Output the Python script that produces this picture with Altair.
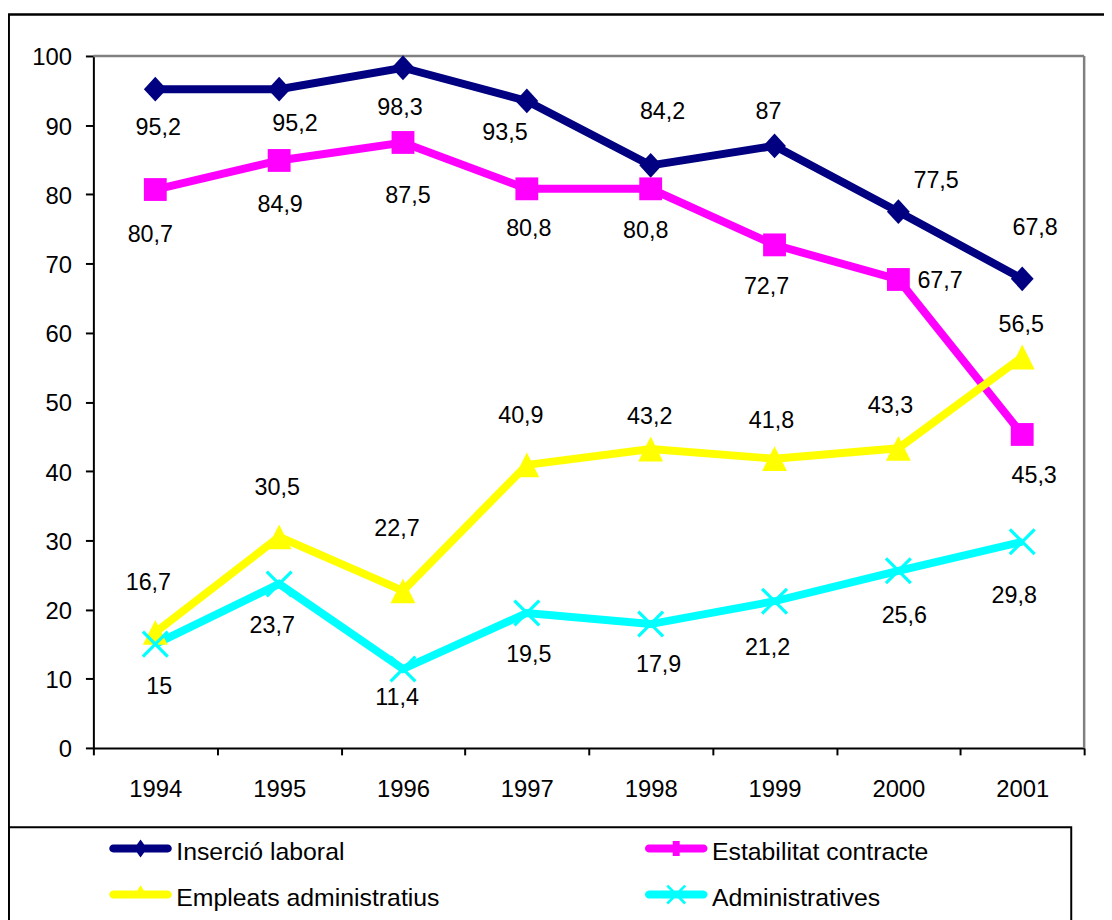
import math
import altair as alt
import pandas as pd

# ---------------- data ----------------
years = [1994, 1995, 1996, 1997, 1998, 1999, 2000, 2001]
series_names = ["Inserció laboral", "Estabilitat contracte",
                "Empleats administratius", "Administratives"]
insercio = [95.2, 95.2, 98.3, 93.5, 84.2, 87, 77.5, 67.8]
estabilitat = [80.7, 84.9, 87.5, 80.8, 80.8, 72.7, 67.7, 45.3]
empleats = [16.7, 30.5, 22.7, 40.9, 43.2, 41.8, 43.3, 56.5]
administratives = [15, 23.7, 11.4, 19.5, 17.9, 21.2, 25.6, 29.8]
y_ticks = list(range(0, 101, 10))

# label placement (pixel offsets of each data label from its marker)
label_dx = {
    "Inserció laboral": [3, 16, -3, -22, 12, -6, 38, 13],
    "Estabilitat contracte": [-5, 1, 5, 2, -5, -8, 42, 12],
    "Empleats administratius": [-7, -2, -6, -6, -1, -3, -8, -1],
    "Administratives": [4, -7, -6, 2, 8, -7, 6, -8],
}
label_dy = {
    "Inserció laboral": [39, 35, 41, 32, -54, -34, -31, -51],
    "Estabilitat contracte": [46, 45, 54, 41, 43, 42, 2, 42],
    "Empleats administratius": [-50, -49, -62, -49, -32, -38, -43, -32],
    "Administratives": [43, 42, 29, 42, 41, 47, 46, 55],
}

# ---------------- styles ----------------
FONT = "Liberation Sans"
colors = ["#000080", "#FF00FF", "#FFFF00", "#00FFFF"]
W, H = 998, 697

values_by_series = dict(zip(series_names, [insercio, estabilitat, empleats, administratives]))
rows = []
for s in series_names:
    for i, (yr, v) in enumerate(zip(years, values_by_series[s])):
        rows.append({
            "series": s, "year": yr, "value": v,
            "label": f"{v:g}".replace(".", ","),
            "ldx": label_dx[s][i], "ldy": label_dy[s][i],
        })
df = pd.DataFrame(rows)


def poly_path(polys, r):
    out = ""
    for poly in polys:
        out += "M" + "L".join(f"{x / r:.3f},{y / r:.3f}" for x, y in poly) + "Z"
    return out


def x_polys(half, t):
    n = t / math.sqrt(2)
    b1 = [(-half + n, -half - n), (half + n, half - n), (half - n, half + n), (-half - n, -half + n)]
    b2 = [(-half + n, half + n), (-half - n, half - n), (half - n, -half - n), (half + n, -half + n)]
    return [b1, b2]


# plot markers (unit square, size 625 -> r = 12.5 px)
R_PLOT = 12.5
plot_paths = [
    poly_path([[(0, -12.5), (11.5, 0), (0, 12.5), (-11.5, 0)]], R_PLOT),
    poly_path([[(-11.5, -11.5), (11.5, -11.5), (11.5, 11.5), (-11.5, 11.5)]], R_PLOT),
    poly_path([[(0, -12.5), (12.5, 12.5), (-12.5, 12.5)]], R_PLOT),
    poly_path(x_polys(12.5, 1.6), R_PLOT),
]

# legend symbols: thick line + small marker (size 400 -> r = 10 px)
R_LEG = 10.0
SY = -4.0


def legend_line():
    pts = [(-27.5, -4), (27.5, -4)]
    for k in range(1, 8):
        a = -math.pi / 2 + math.pi * k / 8
        pts.append((27.5 + 4 * math.cos(a), 4 * math.sin(a)))
    pts += [(27.5, 4), (-27.5, 4)]
    for k in range(1, 8):
        a = math.pi / 2 + math.pi * k / 8
        pts.append((-27.5 + 4 * math.cos(a), 4 * math.sin(a)))
    return pts


def shift(polys, dy):
    return [[(x, y + dy) for x, y in p] for p in polys]


line_poly = [legend_line()]
legend_markers = [
    [[(0, -9), (6.5, 0), (0, 9), (-6.5, 0)]],
    [[(-3.5, -7.5), (3.5, -7.5), (3.5, 7.5), (-3.5, 7.5)]],
    [[(0, -9.3), (8.3, 4), (-8.3, 4)]],
    x_polys(9, 1.3),
]
legend_paths = [poly_path(shift(line_poly + m, SY), R_LEG) for m in legend_markers]

# legend fills its grid column by column: order entries so rows read as in the original
leg_order = [0, 2, 1, 3]
leg_domain = [series_names[i] for i in leg_order]
leg_colors = [colors[i] for i in leg_order]
leg_shapes = [legend_paths[i] for i in leg_order]

x_enc = alt.X("year:O", scale=alt.Scale(type="band", paddingInner=0, paddingOuter=0),
              axis=alt.Axis(title=None, labelAngle=0, tickBand="extent", tickSize=7, tickWidth=2,
                            tickColor="black", domainColor="black", domainWidth=2, grid=False,
                            labelFont=FONT, labelFontSize=24, labelColor="black", labelPadding=23))
y_enc = alt.Y("value:Q", scale=alt.Scale(domain=[0, 100], nice=False, zero=True),
              axis=alt.Axis(title=None, values=y_ticks, tickSize=8, tickWidth=2, tickColor="black",
                            domainColor="black", domainWidth=2, grid=False, labelFont=FONT,
                            labelFontSize=24, labelColor="black", labelPadding=14, labelOffset=2))

base = alt.Chart(df)

lines = base.mark_line(strokeWidth=8).encode(
    x=x_enc, y=y_enc,
    color=alt.Color("series:N", scale=alt.Scale(domain=series_names, range=colors), legend=None),
)

points = base.mark_point(filled=True, size=625, opacity=1).encode(
    x=x_enc, y=y_enc,
    color=alt.Color("series:N", scale=alt.Scale(domain=series_names, range=colors), legend=None),
    shape=alt.Shape("series:N", scale=alt.Scale(domain=series_names, range=plot_paths), legend=None),
)

labels = base.mark_text(font=FONT, fontSize=23.5, color="black", align="center", baseline="middle",
                        dx=alt.ExprRef("datum.ldx"), dy=alt.ExprRef("datum.ldy")).encode(
    x=x_enc, y=y_enc, text="label:N")

leg = alt.Legend(title=None, orient="none", legendX=35, legendY=789.5, columns=2,
                 columnPadding=206.6, rowPadding=18.7, padding=0,
                 labelFont=FONT, labelFontSize=25, labelColor="black", labelOffset=23.5,
                 labelLimit=600, symbolSize=400, symbolStrokeWidth=0, symbolOpacity=1)

legend_layer = base.transform_filter("false").mark_point(filled=True, opacity=1).encode(
    x=x_enc, y=y_enc,
    color=alt.Color("series:N", scale=alt.Scale(domain=leg_domain, range=leg_colors), legend=leg),
    shape=alt.Shape("series:N", scale=alt.Scale(domain=leg_domain, range=leg_shapes), legend=leg),
)

one = pd.DataFrame({"k": [0]})
top_rule = alt.Chart(one).mark_rule(color="#808080", strokeWidth=2.5).encode(
    x=alt.value(0), x2=alt.value(W), y=alt.value(0))
right_rule = alt.Chart(one).mark_rule(color="#808080", strokeWidth=2.5).encode(
    x=alt.value(W), y=alt.value(0), y2=alt.value(H))
outer_box = alt.Chart(one).mark_rect(fill="transparent", stroke="black", strokeWidth=2.5).encode(
    x=alt.value(-85.3), x2=alt.value(1100), y=alt.value(-41.7), y2=alt.value(950))
legend_box = alt.Chart(one).mark_rect(fill="transparent", stroke="black", strokeWidth=2).encode(
    x=alt.value(-85.3), x2=alt.value(985), y=alt.value(777), y2=alt.value(950))

chart = alt.layer(
    outer_box, legend_box, top_rule, right_rule, lines, points, labels, legend_layer
).resolve_scale(color="independent", shape="independent").properties(
    width=W, height=H,
    padding={"left": 86, "top": 45, "right": 20, "bottom": 170},
    autosize=alt.AutoSizeParams(type="none"),
    background="white",
).configure_view(stroke="transparent", strokeWidth=0)

chart.save("out.html", embed_options={"renderer": "svg", "actions": False})
